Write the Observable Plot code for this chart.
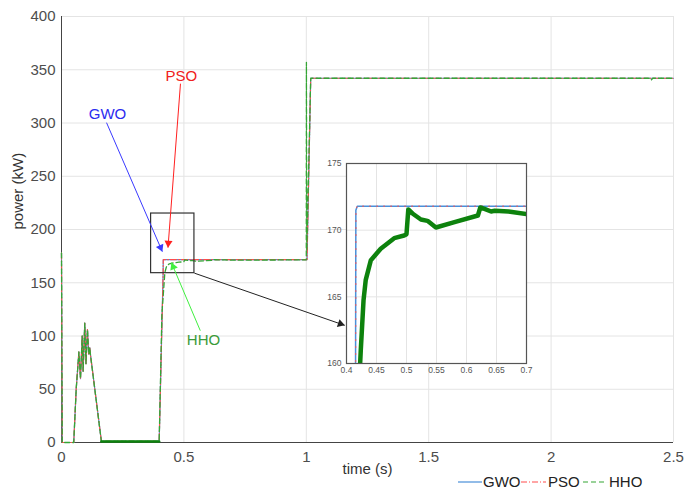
<!DOCTYPE html>
<html>
<head>
<meta charset="utf-8">
<script src="https://cdn.jsdelivr.net/npm/d3@7"></script>
<script src="https://cdn.jsdelivr.net/npm/@observablehq/plot@0.6"></script>
<style>
  body { margin: 0; background: #fff; font-family: "Liberation Sans", Arial, sans-serif; }
  #wrap { position: relative; width: 684px; height: 489px; overflow: hidden; }
  #inset { position: absolute; left: 326px; top: 159px; }
  #legend { position: absolute; left: 0; top: 474px; }
</style>
</head>
<body>
<div id="wrap">
  <div id="main"></div>
  <div id="inset"></div>
  <svg id="legend" width="684" height="15"></svg>
</div>
<script>
// ---- data ----
const xTicks = [0, 0.5, 1, 1.5, 2, 2.5];
const xTickLabels = ["0", "0.5", "1", "1.5", "2", "2.5"];
const yTicks = [0, 50, 100, 150, 200, 250, 300, 350, 400];
const insetXTicks = [0.4, 0.45, 0.5, 0.55, 0.6, 0.65, 0.7];
const insetXTickLabels = ["0.4", "0.45", "0.5", "0.55", "0.6", "0.65", "0.7"];
const insetYTicks = [160, 165, 170, 175];

const gwoT = [0, 0.003, 0.05, 0.06, 0.071, 0.0776, 0.0845, 0.0884, 0.095, 0.1, 0.106, 0.1116, 0.1156, 0.118, 0.163, 0.399, 0.4150, 0.4156, 0.418, 1.003, 1.018, 2.5];
const gwoP = [178, 0, 0, 50, 85, 60, 100, 67, 112, 74, 106, 83, 89, 83, 1, 1, 158, 171.5, 171.8, 171.8, 342, 342];

const psoT = [0, 0.003, 0.05, 0.06, 0.071, 0.0776, 0.0845, 0.0884, 0.095, 0.1, 0.106, 0.1116, 0.1156, 0.118, 0.163, 0.399, 0.4152, 0.4158, 0.418, 1.003, 1.018, 2.5];
const psoP = [178, 0, 0, 50, 85, 60, 100, 67, 112, 74, 106, 83, 89, 83, 1, 1, 158, 171.6, 171.8, 171.8, 342, 342];

const hhoT = [0, 0.003, 0.05, 0.06, 0.071, 0.0776, 0.0845, 0.0884, 0.095, 0.1, 0.106, 0.1116, 0.1156, 0.118, 0.163, 0.399, 0.41, 0.4222, 0.4238, 0.4284, 0.432, 0.4406, 0.457, 0.4795, 0.496, 0.5, 0.503, 0.51, 0.524, 0.535, 0.549, 0.58, 0.619, 0.623, 0.63, 0.641, 0.647, 0.67, 0.7, 1.0, 1.0005, 1.002, 1.018, 2.405, 2.41, 2.415, 2.5];
const hhoP = [178, 0, 0, 50, 85, 60, 100, 67, 112, 74, 106, 83, 89, 83, 1, 1, 120, 159.5, 161, 164.75, 166.25, 167.75, 168.6, 169.4, 169.6, 169.7, 171.55, 171.25, 170.8, 170.7, 170.2, 170.6, 171.1, 171.7, 171.6, 171.4, 171.45, 171.4, 171.2, 171.5, 357, 180, 342, 342, 340.5, 342, 342];

// zoom box, arrows and labels (data coordinates of the main chart)
const zoomBox = [{x1: 0.366, x2: 0.543, y1: 159, y2: 215}];
const labels = [
  {name: "GWO", t: 0.188, p: 308.7, color: "#2b2bf0"},
  {name: "PSO", t: 0.49, p: 344, color: "#f02020"},
  {name: "HHO", t: 0.58, p: 95.7, color: "#3a9a3a"}
];
const arrows = [
  {x1: 0.184, y1: 300.3, x2: 0.412, y2: 179.2, color: "#3a3aff"},
  {x1: 0.486, y1: 336.9, x2: 0.435, y2: 183, color: "#ff2020"},
  {x1: 0.567, y1: 105, x2: 0.449, y2: 168.9, color: "#40f040"},
  {x1: 0.543, y1: 159, x2: 1.157, y2: 110, color: "#222222"}
];

const rows = (T, P) => T.map((t, i) => ({t, p: P[i]}));
const gwo = rows(gwoT, gwoP), pso = rows(psoT, psoP), hho = rows(hhoT, hhoP);
const hhoFlat = hho.filter(d => d.t >= 0.163 && d.t <= 0.399);

const GWO_C = "#4a90d9", PSO_C = "#ff4d4d", HHO_C = "#35a535";

function buildMain(extra) {
  return Plot.plot({
    width: 684, height: 476,
    marginLeft: 61, marginRight: 11, marginTop: 16, marginBottom: 34,
    style: {fontFamily: "Liberation Sans, Arial, sans-serif", color: "#4d4d4d", background: "#fff", overflow: "visible"},
    x: {domain: [0, 2.5]},
    y: {domain: [0, 400]},
    marks: [
      Plot.gridX(xTicks, {stroke: "#e4e4e4", strokeOpacity: 1}),
      Plot.gridY(yTicks, {stroke: "#e4e4e4", strokeOpacity: 1}),
      Plot.axisX({ticks: xTicks, tickFormat: (d, i) => xTickLabels[i], tickSize: 0, tickPadding: 9, fontSize: 15, label: null}),
      Plot.axisY({ticks: yTicks, tickSize: 0, tickPadding: 6, fontSize: 15, label: null}),
      Plot.ruleX([0], {stroke: "#444"}),
      Plot.ruleY([0], {stroke: "#444"}),
      Plot.line(gwo, {x: "t", y: "p", stroke: GWO_C, strokeWidth: 1.2}),
      Plot.line(pso, {x: "t", y: "p", stroke: PSO_C, strokeWidth: 1.2, strokeDasharray: "6,2,1,2"}),
      Plot.line(hho, {x: "t", y: "p", stroke: HHO_C, strokeWidth: 1.3, strokeDasharray: "5,3"}),
      Plot.line(hhoFlat, {x: "t", y: "p", stroke: "#0d820d", strokeWidth: 2.5}),
      Plot.rect(zoomBox, {x1: "x1", x2: "x2", y1: "y1", y2: "y2", fill: "none", stroke: "#333", strokeWidth: 1.2}),
      Plot.link(arrows, {x1: "x1", y1: "y1", x2: "x2", y2: "y2", stroke: "color", strokeWidth: 1}),
      Plot.text(labels, {x: "t", y: "p", text: "name", fill: "color", fontSize: 15}),
      Plot.text(["time (s)"], {frameAnchor: "bottom", dy: 31, fontSize: 15, fill: "#333"}),
      Plot.text(["power (kW)"], {frameAnchor: "left", dx: -43, rotate: -90, fontSize: 15, fill: "#333"}),
      ...extra
    ]
  });
}

// first pass to get the scales, then place filled arrowheads along each arrow
const probe = buildMain([]);
const sx = probe.scale("x"), sy = probe.scale("y");
const heads = arrows.map(a => {
  const px1 = sx.apply(a.x1), py1 = sy.apply(a.y1), px2 = sx.apply(a.x2), py2 = sy.apply(a.y2);
  const dx = px2 - px1, dy = py2 - py1, L = Math.hypot(dx, dy), back = 4.6;
  return {x: sx.invert(px2 - dx / L * back), y: sy.invert(py2 - dy / L * back),
          rot: Math.atan2(dx, -dy) * 180 / Math.PI, color: a.color};
});
const main = buildMain([
  Plot.dot(heads, {x: "x", y: "y", symbol: "triangle", r: 3, fill: "color", stroke: "none", rotate: "rot"})
]);
document.getElementById("main").appendChild(main);

const inset = Plot.plot({
  width: 210, height: 218,
  marginLeft: 20, marginRight: 10, marginTop: 4, marginBottom: 14,
  style: {fontFamily: "Liberation Sans, Arial, sans-serif", color: "#555", background: "transparent", overflow: "visible"},
  x: {domain: [0.4, 0.7]},
  y: {domain: [160, 175]},
  marks: [
    Plot.frame({fill: "#fff", stroke: "none"}),
    Plot.gridX(insetXTicks, {stroke: "#e4e4e4", strokeOpacity: 1}),
    Plot.gridY(insetYTicks, {stroke: "#e4e4e4", strokeOpacity: 1}),
    Plot.axisX({ticks: insetXTicks, tickFormat: (d, i) => insetXTickLabels[i], tickSize: 0, tickPadding: 3, fontSize: 8.5, label: null}),
    Plot.axisY({ticks: insetYTicks, tickSize: 0, tickPadding: 5, fontSize: 8.5, label: null}),
    Plot.line(gwo, {x: "t", y: "p", stroke: GWO_C, strokeWidth: 1.5, clip: true}),
    Plot.line(pso, {x: "t", y: "p", stroke: PSO_C, strokeWidth: 1, strokeDasharray: "1,6", clip: true}),
    Plot.line(hho, {x: "t", y: "p", stroke: "#0d820d", strokeWidth: 4.5, clip: true}),
    Plot.frame({stroke: "#555", strokeWidth: 1.2})
  ]
});
document.getElementById("inset").appendChild(inset);

// legend
const leg = d3.select("#legend");
const items = [
  {name: "GWO", color: GWO_C, dash: null, x0: 458, x1: 482, tx: 483},
  {name: "PSO", color: PSO_C, dash: "6,2,1,2", x0: 521, x1: 546, tx: 548},
  {name: "HHO", color: HHO_C, dash: "5,3", x0: 583, x1: 606, tx: 609}
];
for (const it of items) {
  leg.append("line").attr("x1", it.x0).attr("x2", it.x1).attr("y1", 8).attr("y2", 8)
    .attr("stroke", it.color).attr("stroke-width", 1.2).attr("stroke-dasharray", it.dash);
  leg.append("text").attr("x", it.tx).attr("y", 13).attr("font-size", 15)
    .attr("font-family", "Liberation Sans, Arial, sans-serif").attr("fill", "#222").text(it.name);
}
</script>
</body>
</html>
